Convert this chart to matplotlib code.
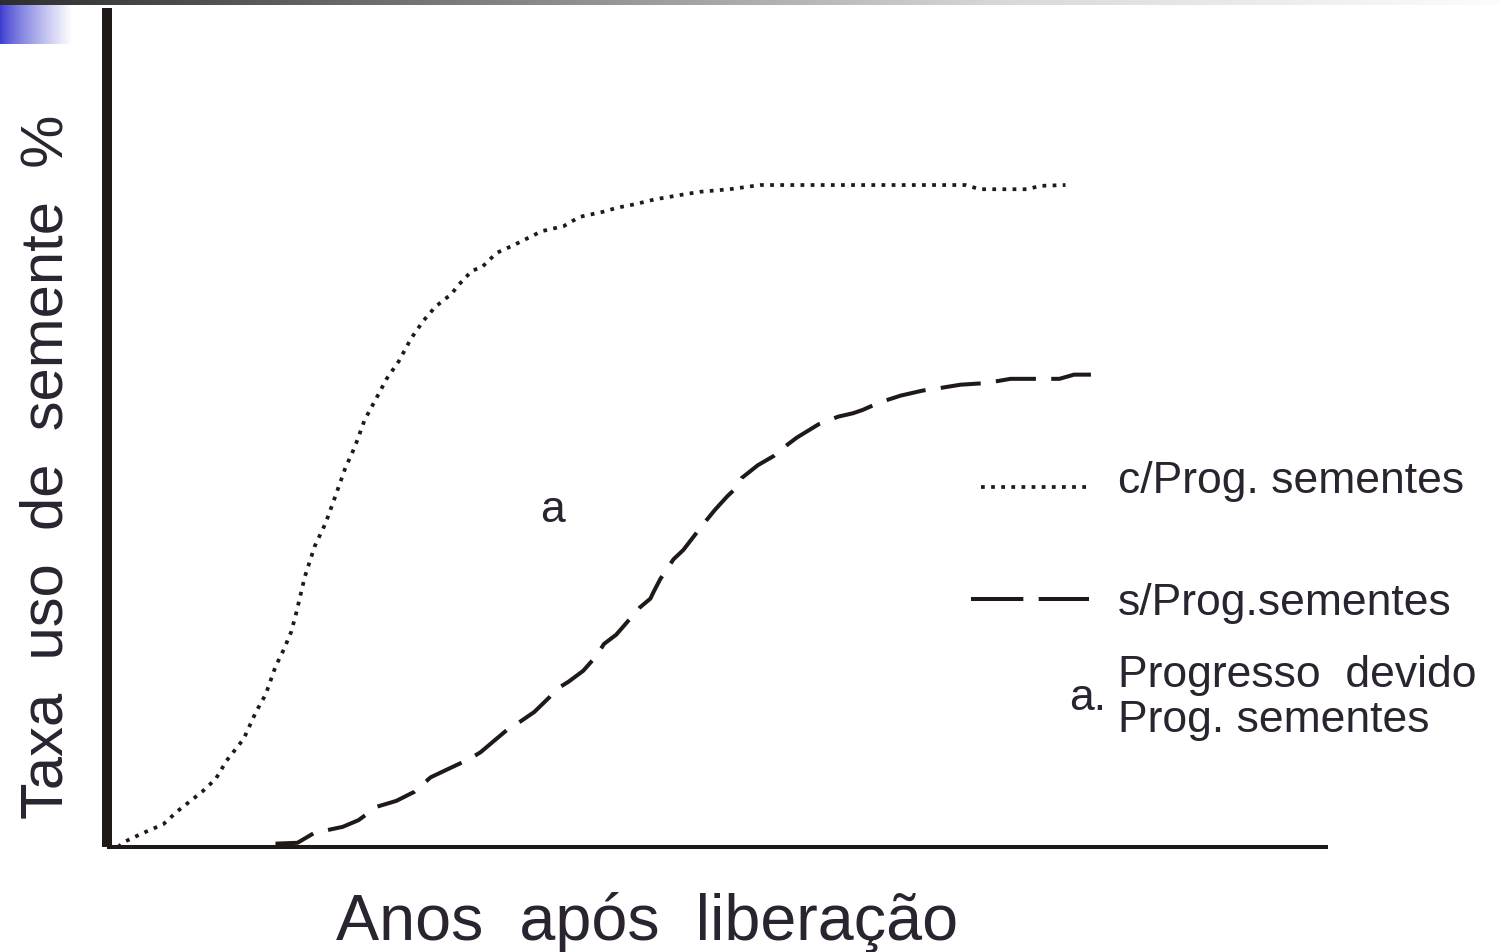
import numpy as np
import matplotlib
matplotlib.use("Agg")
import matplotlib.pyplot as plt

# ---- data (axis units: 0-100 along each axis) ----
com_x = [0.9, 1.4, 3.0, 4.6, 5.8, 7.8, 8.9, 9.8, 11.2, 12.2, 13.0, 13.8, 14.5, 15.1, 15.5,
         16.2, 17.0, 17.9, 18.7, 19.5, 20.3, 21.1, 22.1, 22.9, 23.9, 24.9, 25.9, 26.9,
         28.2, 28.8, 29.9, 30.7, 31.9, 33.4, 35.6, 37.4, 38.7, 40.6, 41.8, 43.2, 44.9,
         46.9, 48.6, 51.0, 53.5, 63.3, 70.3, 71.5, 75.4, 76.4, 78.5]
com_y = [0.0, 0.6, 1.7, 2.7, 4.3, 6.6, 8.1, 10.3, 12.9, 16.1, 18.2, 21.5, 23.6, 25.7, 27.9,
         32.2, 35.8, 38.6, 41.8, 45.1, 47.7, 50.9, 53.6, 55.8, 57.9, 60.6, 62.7, 64.4,
         65.9, 67.0, 68.7, 69.1, 70.8, 71.8, 73.4, 74.0, 75.1, 75.7, 76.2, 76.6, 77.2,
         77.7, 78.1, 78.4, 78.9, 78.9, 78.9, 78.4, 78.4, 78.8, 78.9]

sem_x = [13.8, 15.6, 17.0, 18.0, 19.3, 20.6, 22.1, 23.7, 25.2, 26.5, 27.8, 29.7, 30.6,
         31.9, 32.8, 33.9, 35.0, 36.2, 36.8, 37.8, 39.0, 40.1, 40.7, 41.7, 42.3, 43.6,
         44.5, 44.8, 45.3, 45.7, 46.4, 47.2, 48.1, 48.9, 49.8, 50.8, 51.6, 52.0, 53.3,
         54.6, 55.5, 56.5, 58.3, 59.9, 61.1, 61.9, 63.3, 65.0, 66.8, 68.2, 69.9, 72.0,
         74.0, 78.0, 79.2, 81.2]
sem_y = [0.4, 0.5, 1.7, 2.0, 2.4, 3.2, 4.8, 5.5, 6.6, 8.3, 9.2, 10.5, 11.3,
         12.9, 14.0, 15.0, 16.1, 17.8, 18.8, 19.7, 21.0, 22.8, 24.2, 25.3, 26.3, 28.5,
         29.6, 30.5, 31.9, 32.8, 34.3, 35.4, 37.1, 38.6, 40.2, 41.8, 42.9, 44.0, 45.5,
         46.6, 47.7, 48.8, 50.4, 51.3, 51.7, 52.1, 53.0, 53.8, 54.4, 54.7, 55.1, 55.3,
         55.8, 55.8, 56.3, 56.3]

legend_labels = ["c/Prog. sementes", "s/Prog.sementes"]
note_lines = ["Progresso  devido", "Prog. sementes"]
note_mark = "a."
area_label = "a"
x_label = "Anos  após  liberação"
y_label = "Taxa  uso  de  semente  %"

INK = "#1f1a17"
TXT = "#2a2330"
W, H = 1500, 953

plt.rcParams['font.family'] = ['Liberation Sans', 'DejaVu Sans']
fig = plt.figure(figsize=(15, 9.53), dpi=100)
fig.patch.set_facecolor("white")

# ---- decorative top bar and blue corner ----
bar = fig.add_axes([0, 1 - 6 / H, 1, 6 / H])
xs = np.linspace(0, 1, 600)
g = np.interp(xs, [0, 0.27, 0.67, 1.0], [0.18, 0.45, 0.85, 0.99])
bar.imshow(np.dstack([g, g, g]), aspect='auto', extent=[0, 1, 0, 1])
bar.set_axis_off()

corner = fig.add_axes([0, 1 - 45 / H, 72 / W, 39 / H])
t = np.linspace(0, 1, 200)
f = np.clip(t ** 0.8, 0, 1)
r = 0.23 + (1 - 0.23) * f
gg = 0.23 + (1 - 0.23) * f
b = 0.82 + (1 - 0.82) * f
corner.imshow(np.dstack([r, gg, b]), aspect='auto', extent=[0, 1, 0, 1])
corner.set_axis_off()

# ---- main axes ----
ax = fig.add_axes([107 / W, (H - 848) / H, (1328 - 107) / W, (848 - 9) / H])
ax.set_xlim(0, 100)
ax.set_ylim(0, 100)
for s in ["top", "right"]:
    ax.spines[s].set_visible(False)
ax.spines["left"].set_linewidth(7.2)
ax.spines["bottom"].set_linewidth(2.9)
ax.spines["left"].set_color(INK)
ax.spines["bottom"].set_color(INK)
ax.spines["left"].set_capstyle('butt')
ax.spines["bottom"].set_capstyle('butt')
ax.set_xticks([])
ax.set_yticks([])

ax.plot(com_x, com_y, color=INK, lw=2.7, linestyle=(0, (1, 1.7)),
        dash_capstyle='butt', clip_on=False)
ax.plot(sem_x, sem_y, color=INK, lw=2.9, linestyle=(0, (10, 3.8)),
        dash_capstyle='butt', clip_on=False)

# legend samples
def px2x(px):
    return (px - 107) / (1328 - 107) * 100

def py2y(py):
    return (848 - py) / (848 - 9) * 100

ax.plot([px2x(981), px2x(1089)], [py2y(488)] * 2, color=INK, lw=2.7,
        linestyle=(0, (1, 1.7)), dash_capstyle='butt', clip_on=False)
ax.plot([px2x(971), px2x(1089)], [py2y(600)] * 2, color=INK, lw=2.9,
        linestyle=(0, (13, 3.8)), dash_capstyle='butt', clip_on=False)

fs_leg = 32
fig.text(1118 / W, 1 - 493 / H, legend_labels[0], fontsize=fs_leg, color=TXT,
         ha='left', va='baseline')
fig.text(1118 / W, 1 - 615 / H, legend_labels[1], fontsize=fs_leg, color=TXT,
         ha='left', va='baseline')
fig.text(1118 / W, 1 - 687 / H, note_lines[0], fontsize=fs_leg, color=TXT,
         ha='left', va='baseline')
fig.text(1118 / W, 1 - 732 / H, note_lines[1], fontsize=fs_leg, color=TXT,
         ha='left', va='baseline')
fig.text(1069 / W, 1 - 710 / H, note_mark, fontsize=fs_leg, color=TXT,
         ha='left', va='baseline')
fig.text(553 / W, 1 - 522 / H, area_label, fontsize=fs_leg, color=TXT,
         ha='center', va='baseline')

fig.text(647 / W, 1 - 940 / H, x_label, fontsize=46.5, color=TXT,
         ha='center', va='baseline')
fig.text(63 / W, 1 - 467 / H, y_label, fontsize=43, color=TXT, rotation=90,
         rotation_mode='anchor', ha='center', va='baseline')

fig.savefig("out.png", dpi=100, facecolor="white")
